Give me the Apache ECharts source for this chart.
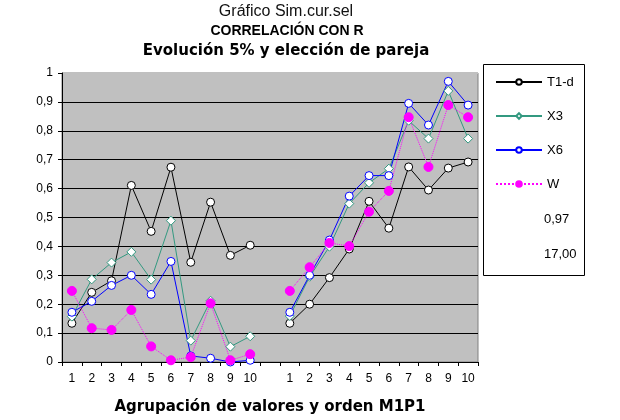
<!DOCTYPE html>
<html><head><meta charset="utf-8">
<script src="https://cdn.jsdelivr.net/npm/echarts@6/dist/echarts.min.js"></script>
<style>html,body{margin:0;padding:0;background:#fff}#c{width:620px;height:420px}</style>
</head><body><div id="c"></div>
<script>
const categories = ['1','2','3','4','5','6','7','8','9','10','','1','2','3','4','5','6','7','8','9','10'];
const t1d = [0.134,0.241,0.281,0.611,0.452,0.674,0.345,0.553,0.369,0.404,null,0.134,0.200,0.292,0.391,0.556,0.463,0.675,0.595,0.671,0.692];
const x3  = [0.157,0.286,0.344,0.381,0.285,0.489,0.074,0.212,0.053,0.089,null,0.159,0.295,0.399,0.548,0.620,0.669,0.835,0.773,0.938,0.773];
const x6  = [0.172,0.210,0.265,0.300,0.234,0.348,0.021,0.013,0.000,0.006,null,0.172,0.300,0.422,0.574,0.645,0.645,0.895,0.820,0.971,0.889];
const w   = [0.246,0.117,0.111,0.180,0.054,0.006,0.017,0.203,0.006,0.027,null,0.246,0.328,0.412,0.401,0.520,0.592,0.847,0.675,0.889,0.847];
const legendExtra = ['0,97','17,00'];
const yTicks = [0,0.1,0.2,0.3,0.4,0.5,0.6,0.7,0.8,0.9,1];

const FONT = 'Liberation Sans';
const chart = echarts.init(document.getElementById('c'));
const splitColors = yTicks.map((v,i)=> i===yTicks.length-1 ? '#c0c0c0' : '#000');
function lineSeries(name, data, color, symbol, fill, size, type){
  return {name, type:'line', data, symbol, symbolSize:size, showSymbol:true,
    itemStyle:{color:fill, borderColor:color, borderWidth:1},
    lineStyle:{color, width:1, type},
    emphasis:{disabled:true}, animation:false, connectNulls:false};
}
chart.setOption({
  animation:false,
  textStyle:{fontFamily:FONT},
  grid:{left:62, right:142, top:73, bottom:58, show:true, backgroundColor:'#c0c0c0', borderColor:'#808080', borderWidth:1},
  xAxis:{type:'category', data:categories, boundaryGap:true,
    axisLine:{lineStyle:{color:'#000'}},
    axisTick:{show:true, interval:0, length:4, lineStyle:{color:'#000'}},
    axisLabel:{interval:0, color:'#000', fontSize:12, margin:11, fontFamily:FONT},
    name:'Agrupación de valores y orden M1P1', nameLocation:'middle', nameGap:38,
    nameTextStyle:{fontSize:15, fontWeight:'bold', color:'#000', fontFamily:'DejaVu Sans'}},
  yAxis:{type:'value', min:0, max:1, interval:0.1,
    axisLine:{show:true, lineStyle:{color:'#000'}},
    axisTick:{show:true, length:4, lineStyle:{color:'#000'}},
    splitLine:{show:true, lineStyle:{color:splitColors, width:1}},
    axisLabel:{color:'#000', fontSize:12, margin:9, fontFamily:FONT,
      formatter:v=> (v===0||v===1) ? String(v) : v.toFixed(1).replace('.',',')}},
  legend:{orient:'vertical', left:490, top:70, itemWidth:46, itemHeight:7, itemGap:20,
    textStyle:{fontSize:13, color:'#000', fontFamily:FONT, lineHeight:14}, selectedMode:false,
    data:['T1-d','X3','X6','W']},
  series:[
    lineSeries('T1-d', t1d, '#000000', 'circle', '#ffffff', 8, 'solid'),
    lineSeries('X3', x3, '#339980', 'diamond', '#ffffff', 9, 'solid'),
    lineSeries('X6', x6, '#0000ff', 'circle', '#ffffff', 8, 'solid'),
    lineSeries('W', w, '#ff00ff', 'circle', '#ff00ff', 9, 'dotted')
  ],
  graphic:[
    {type:'rect', shape:{x:483.5, y:64.5, width:101, height:211}, style:{fill:'none', stroke:'#000', lineWidth:1}, silent:true},
    {type:'text', left:544, top:213, style:{text:legendExtra[0], font:'13px "Liberation Sans"', fill:'#000'}},
    {type:'text', left:544, top:248, style:{text:legendExtra[1], font:'13px "Liberation Sans"', fill:'#000'}},
    {type:'text', x:286, y:12, style:{text:'Gráfico Sim.cur.sel', font:'16px "Liberation Sans"', fill:'#111', align:'center', verticalAlign:'middle'}},
    {type:'text', x:287, y:31, style:{text:'CORRELACIÓN CON R', font:'bold 14px "Liberation Sans"', fill:'#000', align:'center', verticalAlign:'middle'}},
    {type:'text', x:286, y:51, style:{text:'Evolución 5% y elección de pareja', font:'bold 15px "DejaVu Sans"', fill:'#000', align:'center', verticalAlign:'middle'}}
  ]
});
</script></body></html>
